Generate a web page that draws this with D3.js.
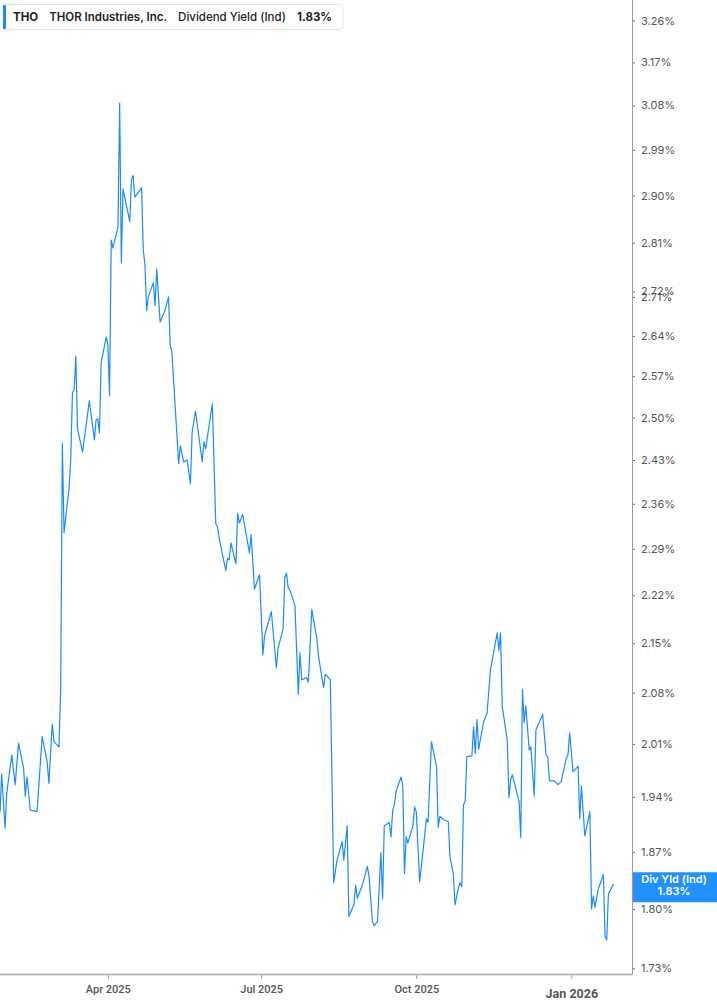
<!DOCTYPE html>
<html>
<head>
<meta charset="utf-8">
<script src="https://cdn.jsdelivr.net/npm/d3@7"></script>
<style>
  html, body { margin: 0; padding: 0; background: #fff; }
  svg { display: block; }
</style>
</head>
<body>
<svg id="chart" width="717" height="1005"></svg>
<script>
// THO dividend yield (ind), daily closes
const dates = [
  '2025-01-27','2025-01-28','2025-01-30','2025-01-31','2025-02-03','2025-02-05','2025-02-07','2025-02-10','2025-02-11','2025-02-12',
  '2025-02-14','2025-02-18','2025-02-21','2025-02-24','2025-02-25','2025-02-27','2025-02-28','2025-03-03','2025-03-04','2025-03-05',
  '2025-03-06','2025-03-09','2025-03-10','2025-03-11','2025-03-12','2025-03-13','2025-03-14','2025-03-17','2025-03-21','2025-03-24',
  '2025-03-25','2025-03-26','2025-03-27','2025-03-28','2025-03-31','2025-04-01','2025-04-02','2025-04-03','2025-04-04','2025-04-07',
  '2025-04-08','2025-04-09','2025-04-10','2025-04-14','2025-04-15','2025-04-16','2025-04-17','2025-04-21','2025-04-22','2025-04-23',
  '2025-04-24','2025-04-25','2025-04-28','2025-04-29','2025-04-30','2025-05-02','2025-05-05','2025-05-07','2025-05-08','2025-05-09',
  '2025-05-13','2025-05-14','2025-05-16','2025-05-18','2025-05-20','2025-05-21','2025-05-23','2025-05-27','2025-05-28','2025-05-29',
  '2025-06-02','2025-06-04','2025-06-05','2025-06-06','2025-06-08','2025-06-10','2025-06-11','2025-06-12','2025-06-13','2025-06-16',
  '2025-06-17','2025-06-18','2025-06-20','2025-06-24','2025-06-25','2025-06-27','2025-06-30','2025-07-02','2025-07-03','2025-07-07',
  '2025-07-10','2025-07-11','2025-07-14','2025-07-15','2025-07-16','2025-07-17','2025-07-18','2025-07-21','2025-07-23','2025-07-24',
  '2025-07-25','2025-07-28','2025-07-29','2025-07-31','2025-08-03','2025-08-04','2025-08-07','2025-08-08','2025-08-11','2025-08-13',
  '2025-08-15','2025-08-18','2025-08-19','2025-08-21','2025-08-22','2025-08-25','2025-08-26','2025-08-27','2025-08-30','2025-09-02',
  '2025-09-03','2025-09-05','2025-09-06','2025-09-08','2025-09-10','2025-09-11','2025-09-12','2025-09-15','2025-09-16','2025-09-17',
  '2025-09-18','2025-09-19','2025-09-22','2025-09-23','2025-09-24','2025-09-25','2025-09-26','2025-09-29','2025-09-30','2025-10-01',
  '2025-10-03','2025-10-05','2025-10-07','2025-10-08','2025-10-10','2025-10-13','2025-10-14','2025-10-15','2025-10-17','2025-10-20',
  '2025-10-21','2025-10-23','2025-10-24','2025-10-26','2025-10-27','2025-10-28','2025-10-29','2025-10-30','2025-10-31','2025-11-03',
  '2025-11-04','2025-11-05','2025-11-06','2025-11-07','2025-11-10','2025-11-12','2025-11-14','2025-11-16','2025-11-18','2025-11-19',
  '2025-11-20','2025-11-21','2025-11-24','2025-11-25','2025-11-26','2025-11-27','2025-12-01','2025-12-02','2025-12-03','2025-12-04',
  '2025-12-05','2025-12-07','2025-12-08','2025-12-10','2025-12-11','2025-12-15','2025-12-17','2025-12-18','2025-12-19','2025-12-22',
  '2025-12-24','2025-12-26','2025-12-29','2025-12-30','2025-12-31','2026-01-02','2026-01-05','2026-01-06','2026-01-07','2026-01-09',
  '2026-01-12','2026-01-13','2026-01-14','2026-01-15','2026-01-17','2026-01-20','2026-01-21','2026-01-22','2026-01-23','2026-01-26'
];

const yields = [
  1.920, 1.970, 1.900, 1.945, 1.995, 1.956, 2.011, 1.978, 1.941, 1.966,
  1.923, 1.921, 2.020, 1.986, 1.958, 2.037, 2.013, 2.006, 2.084, 2.457,
  2.315, 2.385, 2.433, 2.542, 2.547, 2.605, 2.481, 2.443, 2.528, 2.463,
  2.496, 2.498, 2.475, 2.593, 2.638, 2.625, 2.537, 2.815, 2.800, 2.840,
  3.085, 2.772, 2.913, 2.850, 2.931, 2.939, 2.897, 2.915, 2.797, 2.769,
  2.685, 2.710, 2.736, 2.694, 2.761, 2.665, 2.687, 2.710, 2.623, 2.612,
  2.424, 2.453, 2.427, 2.430, 2.392, 2.476, 2.511, 2.427, 2.460, 2.448,
  2.523, 2.329, 2.324, 2.308, 2.281, 2.257, 2.276, 2.273, 2.299, 2.267,
  2.345, 2.330, 2.343, 2.284, 2.312, 2.229, 2.251, 2.133, 2.161, 2.196,
  2.115, 2.143, 2.171, 2.247, 2.253, 2.231, 2.228, 2.205, 2.078, 2.136,
  2.098, 2.101, 2.095, 2.199, 2.156, 2.131, 2.087, 2.106, 2.098, 1.832,
  1.860, 1.883, 1.860, 1.903, 1.791, 1.805, 1.829, 1.813, 1.829, 1.852,
  1.839, 1.785, 1.780, 1.785, 1.869, 1.812, 1.903, 1.907, 1.889, 1.923,
  1.930, 1.947, 1.966, 1.954, 1.843, 1.889, 1.881, 1.903, 1.927, 1.921,
  1.833, 1.871, 1.912, 1.907, 2.013, 1.980, 1.901, 1.915, 1.911, 1.908,
  1.864, 1.842, 1.805, 1.826, 1.832, 1.827, 1.930, 1.934, 1.993, 1.994,
  2.033, 1.997, 2.043, 2.003, 2.040, 2.052, 2.112, 2.138, 2.165, 2.140,
  2.165, 2.061, 2.015, 1.939, 1.962, 1.969, 1.934, 1.888, 2.085, 2.039,
  2.062, 2.002, 2.006, 1.941, 2.029, 2.050, 1.995, 1.993, 1.961, 1.961,
  1.956, 1.960, 1.991, 1.995, 2.025, 1.973, 1.980, 1.912, 1.954, 1.890,
  1.921, 1.800, 1.816, 1.802, 1.824, 1.842, 1.767, 1.763, 1.818, 1.830
];

const yTickValues = [1.73, 1.80, 1.87, 1.94, 2.01, 2.08, 2.15, 2.22, 2.29, 2.36, 2.43,
  2.50, 2.57, 2.64, 2.71, 2.72, 2.81, 2.90, 2.99, 3.08, 3.17, 3.26];
const xTickDates = ['2025-04-01', '2025-07-01', '2025-10-01', '2026-01-01'];
const xTickLabels = ['Apr 2025', 'Jul 2025', 'Oct 2025', 'Jan 2026'];
const xDomain = ['2025-01-27', '2026-02-06'];
const yDomain = [1.73, 3.26];

const ticker = 'THO';
const company = 'THOR Industries, Inc.';
const metric = 'Dividend Yield (Ind)';
const badgeTitle = 'Div Yld (Ind)';
const lastValue = yields[yields.length - 1];

const LINE = '#1a8cff';
const plotW = 632;
const plotBottom = 974;

const parse = d3.utcParse('%Y-%m-%d');
const series = dates.map((d, i) => ({ date: parse(d), value: yields[i] }));

const svg = d3.select('#chart');

const x = d3.scaleUtc()
  .domain(xDomain.map(parse))
  .range([0, plotW]);

const y = d3.scaleLog()
  .domain(yDomain)
  .range([968.3, 20.5]);

svg.append('defs').append('clipPath')
  .attr('id', 'plot-clip')
  .append('rect')
  .attr('x', 0).attr('y', 0)
  .attr('width', plotW).attr('height', plotBottom);

// the line
const line = d3.line()
  .x(d => x(d.date))
  .y(d => y(d.value));

svg.append('path')
  .datum(series)
  .attr('clip-path', 'url(#plot-clip)')
  .attr('d', line)
  .attr('fill', 'none')
  .attr('stroke', LINE)
  .attr('stroke-width', 1.2)
  .attr('stroke-linejoin', 'round');

// right axis
const yAxis = d3.axisRight(y)
  .tickValues(yTickValues)
  .tickSize(3)
  .tickPadding(6)
  .tickFormat(d => d3.format('.2f')(d) + '%');

const yG = svg.append('g')
  .attr('transform', `translate(${plotW},0)`)
  .call(yAxis);
yG.select('.domain').remove();
yG.selectAll('.tick line').attr('stroke', '#666');
yG.selectAll('.tick text')
  .attr('fill', '#555')
  .attr('font-family', 'Inter, "Noto Sans", sans-serif')
  .attr('font-size', 11);

svg.append('line')
  .attr('x1', plotW + 0.5).attr('x2', plotW + 0.5)
  .attr('y1', 0).attr('y2', plotBottom)
  .attr('stroke', '#9a9a9a')
  .attr('stroke-width', 1);

// bottom axis
const xAxis = d3.axisBottom(x)
  .tickValues(xTickDates.map(parse))
  .tickSize(5)
  .tickPadding(6)
  .tickFormat((d, i) => xTickLabels[i]);

const xG = svg.append('g')
  .attr('transform', `translate(0,${plotBottom})`)
  .call(xAxis);
xG.select('.domain').remove();
xG.selectAll('.tick line').attr('stroke', '#9a9a9a');
xG.selectAll('.tick text')
  .attr('fill', '#555')
  .attr('font-family', 'Roboto, "Noto Sans", sans-serif')
  .attr('font-size', 11)
  .attr('font-weight', 500);
xG.selectAll('.tick text')
  .filter((d, i) => i === xTickLabels.length - 1)
  .attr('font-size', 12.5)
  .attr('font-weight', 700)
  .attr('dy', '1.0em');

svg.append('line')
  .attr('x1', 0).attr('x2', plotW + 1)
  .attr('y1', plotBottom + 0.5).attr('y2', plotBottom + 0.5)
  .attr('stroke', '#a8a8a8')
  .attr('stroke-width', 1.5);

// last value badge
const badgeY = y(lastValue);
const badge = svg.append('g');
badge.append('rect')
  .attr('x', plotW + 1).attr('y', badgeY - 12)
  .attr('width', 717 - plotW - 1).attr('height', 30)
  .attr('fill', '#2291ff');
badge.append('text')
  .attr('x', 674).attr('y', badgeY - 1)
  .attr('text-anchor', 'middle')
  .attr('fill', '#fff')
  .attr('font-family', 'Inter, "Noto Sans", sans-serif')
  .attr('font-size', 11)
  .attr('font-weight', 600)
  .text(badgeTitle);
badge.append('text')
  .attr('x', 674).attr('y', badgeY + 11)
  .attr('text-anchor', 'middle')
  .attr('fill', '#fff')
  .attr('font-family', 'Inter, "Noto Sans", sans-serif')
  .attr('font-size', 11)
  .attr('font-weight', 600)
  .text(d3.format('.2f')(lastValue) + '%');

// legend box, top left: items laid out one after another
const legend = svg.append('g');
const legendBox = legend.append('rect')
  .attr('x', 3.5).attr('y', 4.5)
  .attr('height', 25)
  .attr('rx', 3)
  .attr('fill', '#fff')
  .attr('stroke', '#e4e4e4');
legend.append('rect')
  .attr('x', 3).attr('y', 5)
  .attr('width', 3).attr('height', 24)
  .attr('fill', LINE);

const legendItems = [
  { text: ticker, weight: 700 },
  { text: company, weight: 600 },
  { text: metric, weight: 500 },
  { text: d3.format('.2f')(lastValue) + '%', weight: 700 }
];
let cursor = 13;
legend.selectAll('text.item')
  .data(legendItems)
  .enter()
  .append('text')
  .attr('class', 'item')
  .attr('y', 21)
  .attr('fill', '#222')
  .attr('font-family', 'Inter, "Noto Sans", sans-serif')
  .attr('font-size', 11.5)
  .attr('font-weight', d => d.weight)
  .text(d => d.text)
  .each(function() {
    d3.select(this).attr('x', cursor);
    cursor += this.getComputedTextLength() + 11;
  });
legendBox.attr('width', cursor - 3.5);
</script>
</body>
</html>
